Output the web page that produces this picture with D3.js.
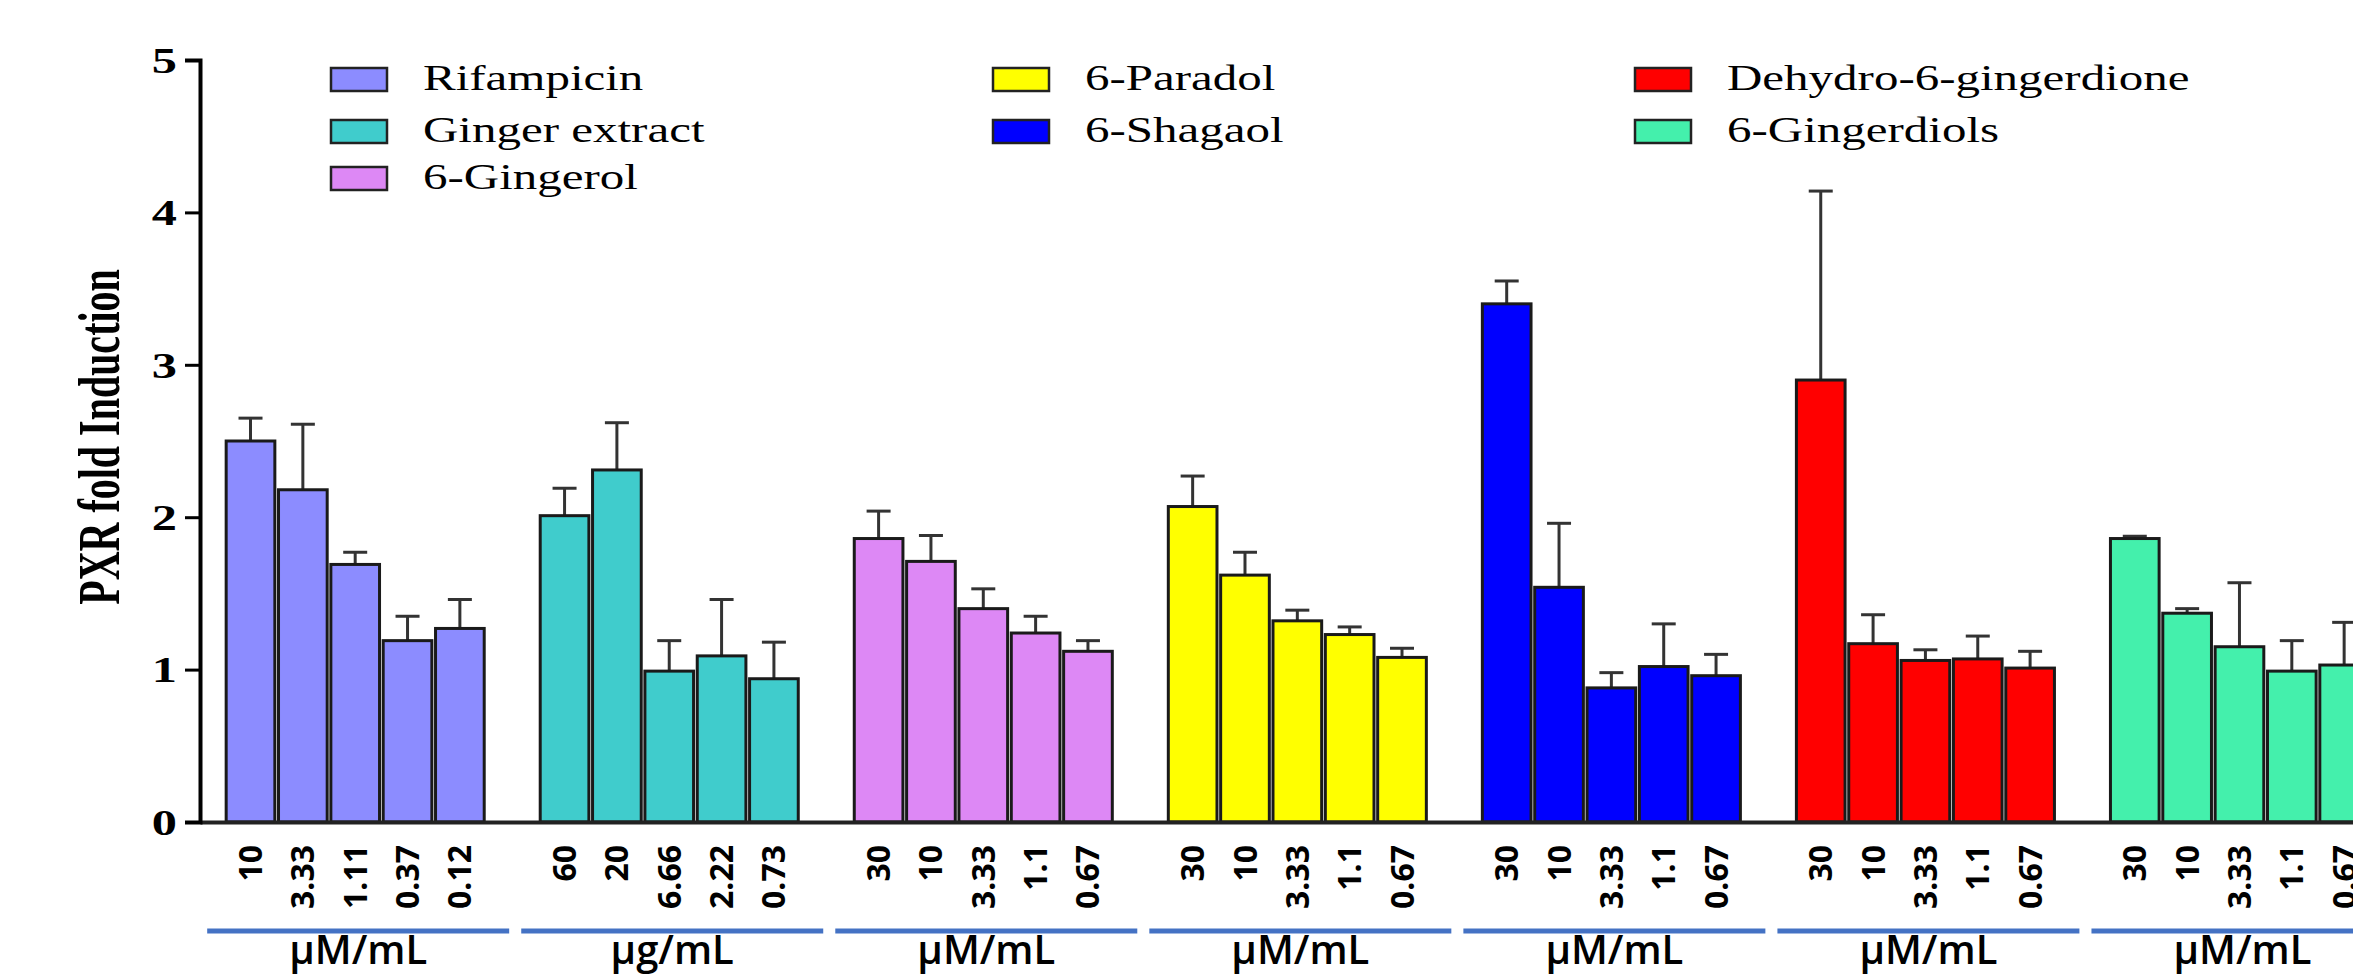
<!DOCTYPE html>
<html lang="en">
<head>
<meta charset="UTF-8">
<title>PXR fold induction</title>
<script src="https://d3js.org/d3.v7.min.js"></script>
<style>
    body { margin: 0; background: #fff; }
    svg { display: block; }
    .serif { font-family: "Liberation Serif", "Times New Roman", serif; }
    .sans { font-family: "Open Sans", "Noto Sans", sans-serif; font-weight: 700; }
    .unit { font-family: "Open Sans", "Noto Sans", sans-serif; font-weight: 600; }
</style>
</head>
<body>
<div id="chart"></div>
<script>
    // data
    const groups = ["Rifampicin", "Ginger extract", "6-Gingerol", "6-Paradol", "6-Shagaol", "Dehydro-6-gingerdione", "6-Gingerdiols"];
    const colors = ["#8c8cff", "#40cccc", "#dd88f5", "#ffff00", "#0000ff", "#ff0000", "#44f0ac"];
    const units = ["μM/mL", "μg/mL", "μM/mL", "μM/mL", "μM/mL", "μM/mL", "μM/mL"];
    const doses = [
        ["10", "3.33", "1.11", "0.37", "0.12"],
        ["60", "20", "6.66", "2.22", "0.73"],
        ["30", "10", "3.33", "1.1", "0.67"],
        ["30", "10", "3.33", "1.1", "0.67"],
        ["30", "10", "3.33", "1.1", "0.67"],
        ["30", "10", "3.33", "1.1", "0.67"],
        ["30", "10", "3.33", "1.1", "0.67"]
    ];
    const means = [
        [2.50, 2.18, 1.69, 1.19, 1.27],
        [2.01, 2.31, 0.99, 1.09, 0.94],
        [1.86, 1.71, 1.40, 1.24, 1.12],
        [2.07, 1.62, 1.32, 1.23, 1.08],
        [3.40, 1.54, 0.88, 1.02, 0.96],
        [2.90, 1.17, 1.06, 1.07, 1.01],
        [1.86, 1.37, 1.15, 0.99, 1.03]
    ];
    const errors = [
        [0.15, 0.43, 0.08, 0.16, 0.19],
        [0.18, 0.31, 0.20, 0.37, 0.24],
        [0.18, 0.17, 0.13, 0.11, 0.07],
        [0.20, 0.15, 0.07, 0.05, 0.06],
        [0.15, 0.42, 0.10, 0.28, 0.14],
        [1.24, 0.19, 0.07, 0.15, 0.11],
        [0.015, 0.03, 0.42, 0.20, 0.28]
    ];
    const yTicks = [0, 1, 2, 3, 4, 5];

    const W = 2353, H = 978;
    const margin = {top: 60, left: 200};
    const plotH = 762;
    const stretch = 1.4;   // the graph part of the figure is stretched sideways

    const svg = d3.select("#chart").append("svg")
        .attr("width", W)
        .attr("height", H);

    const g = svg.append("g")
        .attr("transform", `translate(${margin.left},${margin.top})`);

    // one slot per bar, plus an empty slot after each group
    const slots = [];
    groups.forEach((grp, gi) => {
        for (let i = 0; i < 6; i++) slots.push(gi + "-" + i);
    });

    const x = d3.scaleBand().domain(slots).range([0, 2247]).paddingInner(0.07).paddingOuter(0.5);
    const y = d3.scaleLinear().domain([0, 5]).range([plotH, 0]);

    const bars = [];
    groups.forEach((grp, gi) => {
        means[gi].forEach((m, i) => {
            bars.push({group: gi, slot: gi + "-" + i, mean: m, err: errors[gi][i]});
        });
    });

    // error bars (upper only)
    const eb = g.append("g").attr("stroke", "#333").attr("stroke-width", 3);
    bars.forEach(d => {
        const cx = x(d.slot) + x.bandwidth() / 2;
        eb.append("line")
            .attr("x1", cx).attr("x2", cx)
            .attr("y1", y(d.mean)).attr("y2", y(d.mean + d.err));
        eb.append("line")
            .attr("x1", cx - 12).attr("x2", cx + 12)
            .attr("y1", y(d.mean + d.err)).attr("y2", y(d.mean + d.err));
    });

    // bars
    g.append("g").selectAll("rect")
        .data(bars)
        .enter().append("rect")
        .attr("x", d => x(d.slot))
        .attr("y", d => y(d.mean))
        .attr("width", x.bandwidth())
        .attr("height", d => y(0) - y(d.mean))
        .attr("fill", d => colors[d.group])
        .attr("stroke", "#1a1a1a")
        .attr("stroke-width", 3);

    // x axis: dose labels, rotated
    const doseOf = s => {
        const [gi, i] = s.split("-").map(Number);
        return i < 5 ? doses[gi][i] : "";
    };
    const xAxis = g.append("g")
        .attr("transform", `translate(0,${plotH})`)
        .call(d3.axisBottom(x).tickSize(0).tickSizeOuter(0).tickFormat(doseOf));
    xAxis.select(".domain").attr("stroke", "#222").attr("stroke-width", 4);
    xAxis.selectAll("text")
        .attr("class", "sans")
        .attr("font-size", 32)
        .attr("fill", "#000")
        .attr("x", 0).attr("y", 0)
        .attr("dy", "0.36em")
        .attr("text-anchor", "end")
        .attr("transform", "translate(0,23) rotate(-90)");

    // y axis
    const yAxis = g.append("g")
        .call(d3.axisLeft(y).tickValues(yTicks).tickSize(15).tickPadding(6).tickFormat(d3.format("d")));
    yAxis.select(".domain").attr("stroke", "#000").attr("stroke-width", 4);
    yAxis.selectAll(".tick line").attr("stroke", "#000").attr("stroke-width", 3);
    yAxis.selectAll("text")
        .attr("class", "serif")
        .attr("font-size", 36)
        .attr("font-weight", "bold")
        .attr("fill", "#000")
        .attr("x", 0)
        .attr("dy", "0.34em")
        .attr("transform", `translate(-23,0) scale(${stretch},1)`);

    svg.append("text")
        .attr("class", "serif")
        .attr("font-size", 40)
        .attr("font-weight", "bold")
        .attr("text-anchor", "middle")
        .attr("dominant-baseline", "central")
        .attr("transform", `translate(99,437) scale(1.5,1) rotate(-90)`)
        .text("PXR fold Induction");

    // group underlines and units
    groups.forEach((grp, gi) => {
        const x0 = margin.left + x(gi + "-0");
        const x1 = margin.left + x(gi + "-4") + x.bandwidth();
        const c = (x0 + x1) / 2 + 3;
        svg.append("line")
            .attr("x1", c - 151).attr("x2", c + 151)
            .attr("y1", 931).attr("y2", 931)
            .attr("stroke", "#4472c4")
            .attr("stroke-width", 5);
        svg.append("text")
            .attr("class", "unit")
            .attr("font-size", 40)
            .attr("text-anchor", "middle")
            .attr("x", c).attr("y", 964)
            .text(units[gi]);
    });

    // legend, three columns
    const legendCols = [[0, 1, 2], [3, 4], [5, 6]];
    const colX = [331, 993, 1635];
    const rowY = [68, 120, 167];
    legendCols.forEach((col, ci) => {
        col.forEach((gi, ri) => {
            const item = svg.append("g")
                .attr("transform", `translate(${colX[ci]},${rowY[ri]})`);
            item.append("rect")
                .attr("width", 56).attr("height", 23)
                .attr("fill", colors[gi])
                .attr("stroke", "#222")
                .attr("stroke-width", 2.5);
            item.append("text")
                .attr("class", "serif")
                .attr("font-size", 35)
                .attr("transform", `translate(92,22) scale(${stretch},1)`)
                .text(groups[gi]);
        });
    });
</script>
</body>
</html>
